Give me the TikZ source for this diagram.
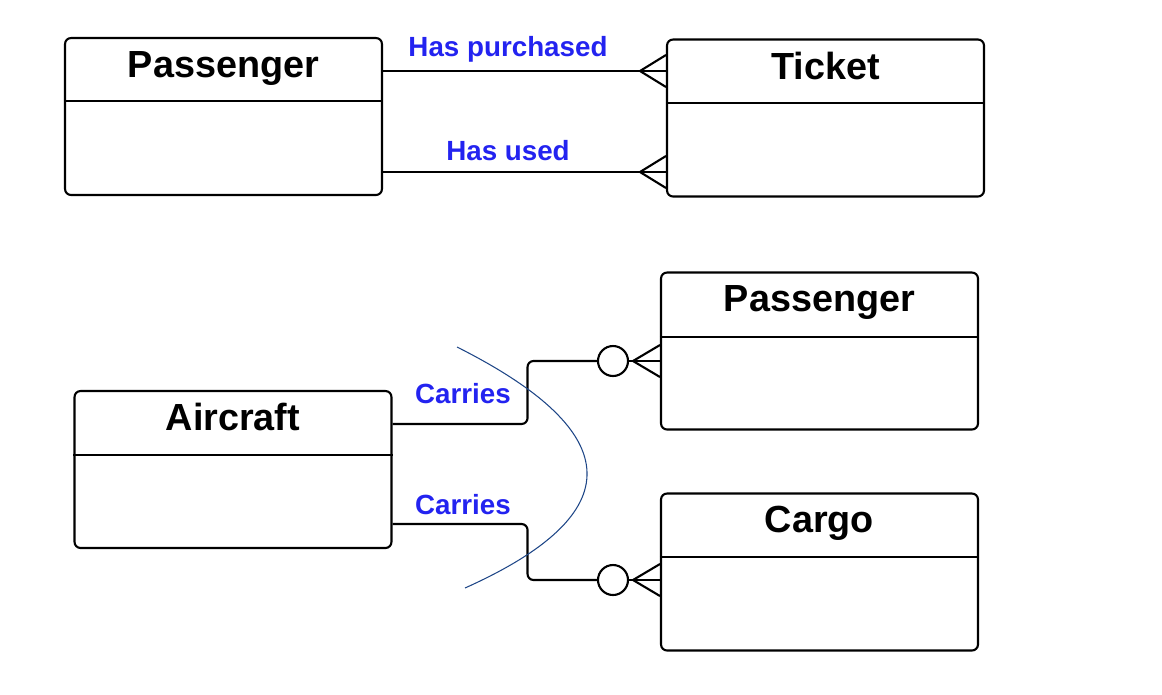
\documentclass[tikz,border=0pt]{standalone}
\usepackage{fontspec}
\setmainfont{Liberation Sans}
\definecolor{relblue}{RGB}{35,35,240}
\definecolor{curveblue}{RGB}{30,70,135}

\begin{document}
\begin{tikzpicture}[x=0.02cm,y=-0.02cm,
		entity/.style={draw,line width=1.2pt,rounded corners=0.12cm,minimum width=6.34cm,minimum height=3.14cm},
		title/.style={anchor=base,font=\fontsize{21.5}{24}\selectfont\bfseries},
		rel/.style={anchor=base,font=\fontsize{15.8}{18}\selectfont\bfseries,text=relblue},
		link/.style={line width=1.2pt},
		ring/.style={draw,circle,line width=1.2pt,minimum size=0.6cm,inner sep=0pt}]
		\useasboundingbox (0,0) rectangle (1162,694);
		% entities
		\node[entity] (pas1) at (223.5,116.5) {};
		\node[title] (pas1t) at (223.5,77) {Passenger};
		\draw[link] (pas1.west |- 0,101) -- (pas1.east |- 0,101);
		\node[entity] (tkt) at (825.5,118) {};
		\node[title] (tktt) at (825.5,79) {Ticket};
		\draw[link] (tkt.west |- 0,103) -- (tkt.east |- 0,103);
		\node[entity] (pas2) at (819.5,351) {};
		\node[title] (pas2t) at (819.5,311) {Passenger};
		\draw[link] (pas2.west |- 0,337) -- (pas2.east |- 0,337);
		\node[entity] (air) at (233,469.5) {};
		\node[title] (airt) at (233,430) {Aircraft};
		\draw[link] (air.west |- 0,455) -- (air.east |- 0,455);
		\node[entity] (cgo) at (819.5,572) {};
		\node[title] (cgot) at (819.5,532) {Cargo};
		\draw[link] (cgo.west |- 0,557) -- (cgo.east |- 0,557);
		% passenger - ticket
		\coordinate (cf1) at (640,71);
		\coordinate (cf2) at (640,172);
		\draw[link] (pas1.east |- cf1) -- (tkt.west |- cf1);
		\draw[link] (tkt.west |- 0,55) -- (cf1) -- (tkt.west |- 0,87);
		\node[rel] (hp) at (508,56) {Has purchased};
		\draw[link] (pas1.east |- cf2) -- (tkt.west |- cf2);
		\draw[link] (tkt.west |- 0,156) -- (cf2) -- (tkt.west |- 0,188);
		\node[rel] (hu) at (508,160) {Has used};
		% aircraft - passenger / cargo
		\node[ring] (o1) at (613,361) {};
		\node[ring] (o2) at (613,580) {};
		\coordinate (cf3) at (633,361);
		\coordinate (cf4) at (633,580);
		\draw[link,rounded corners=0.12cm] (air.east |- 0,424) -- ++(135,0) |- (o1.west);
		\draw[link] (o1.east) -- (pas2.west |- o1);
		\draw[link] (pas2.west |- 0,345) -- (cf3) -- (pas2.west |- 0,377);
		\node[rel] (c1) at (463,403) {Carries};
		\draw[link,rounded corners=0.12cm] (air.east |- 0,524) -- ++(135,0) |- (o2.west);
		\draw[link] (o2.east) -- (cgo.west |- o2);
		\draw[link] (cgo.west |- 0,564) -- (cf4) -- (cgo.west |- 0,596);
		\node[rel] (c2) at (463,514) {Carries};
		% curve
		\draw[curveblue,line width=0.6pt] (457,347) .. controls (628,433) and (630,514) .. (465,588);
	\end{tikzpicture}
\end{document}
